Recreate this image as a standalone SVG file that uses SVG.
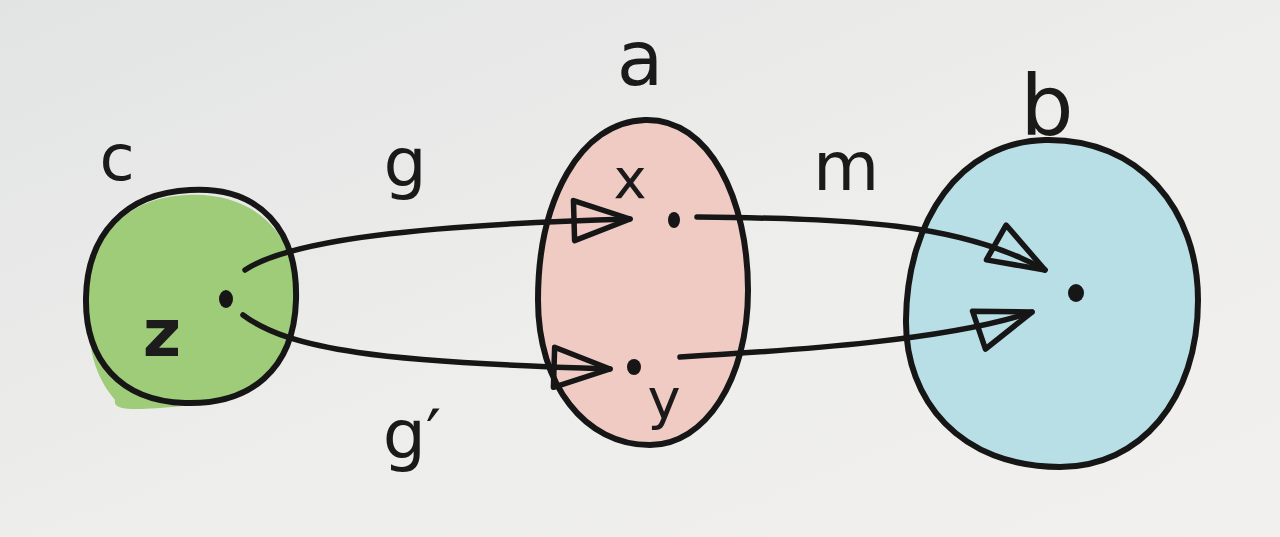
<svg xmlns="http://www.w3.org/2000/svg" width="1280" height="537" viewBox="0 0 1280 537">
  <defs>
    <linearGradient id="bg" x1="0" y1="0" x2="1" y2="1">
      <stop offset="0" stop-color="#e2e4e4"/>
      <stop offset="0.5" stop-color="#ededeb"/>
      <stop offset="1" stop-color="#f1f0ee"/>
    </linearGradient>
    <marker id="open" markerUnits="userSpaceOnUse" viewBox="-64 -28 70 56" refX="0" refY="0" markerWidth="70" markerHeight="56" orient="auto">
      <path d="M -56,-20 L 0,0 L -56,20 Z" fill="none" stroke="#161616" stroke-width="5.5" stroke-linejoin="round"/>
    </marker>
    <style>
      .outline { fill: none; stroke: #161616; stroke-width: 6; stroke-linejoin: round; }
      .edge { fill: none; stroke: #161616; stroke-width: 5.5; stroke-linecap: round; marker-end: url(#open); }
      .dot { fill: #161616; }
      .lbl { font-family: "DejaVu Sans", "Liberation Sans", sans-serif; fill: #1a1a1a; text-anchor: middle; }
      .inner { font-family: "DejaVu Sans", "Liberation Sans", sans-serif; fill: #1c1c1c; text-anchor: middle; font-weight: bold; }
    </style>
  </defs>
  <rect width="1280" height="537" fill="url(#bg)"/>

  <g id="node-c">
    <path d="M 188,195 C 258,192 300,238 297,305 C 294,372 250,400 182,406 C 140,410 112,412 115,400 C 90,370 88,340 88,298 C 89,238 125,197 188,195 Z" fill="#9fcc78"/>
    <path d="M 190,190 C 260,186 298,230 296,300 C 294,370 250,405 185,403 C 120,401 85,360 86,298 C 87,235 125,193 190,190 Z" class="outline"/>
    <ellipse cx="226" cy="299" rx="7" ry="9" class="dot"/>
    <text x="162" y="356" class="inner" font-size="66">z</text>
    <text x="117" y="180" class="lbl" font-size="64">c</text>
  </g>

  <g id="node-a">
    <path d="M 645,120 C 710,118 748,200 748,290 C 748,380 705,445 650,445 C 585,445 538,385 538,300 C 538,200 580,122 645,120 Z" fill="#efcbc3"/>
    <path d="M 645,120 C 710,118 748,200 748,290 C 748,380 705,445 650,445 C 585,445 538,385 538,300 C 538,200 580,122 645,120 Z" class="outline"/>
    <ellipse cx="674" cy="220" rx="6" ry="8" class="dot"/>
    <ellipse cx="634" cy="367" rx="7" ry="8" class="dot"/>
    <text x="630" y="198" class="lbl" font-size="56">x</text>
    <text x="664" y="418" class="lbl" font-size="56">y</text>
    <text x="640" y="85" class="lbl" font-size="76">a</text>
  </g>

  <g id="node-b">
    <path d="M 1045,140 C 1140,138 1198,210 1198,300 C 1198,400 1140,467 1060,467 C 960,467 905,400 906,320 C 907,220 960,142 1045,140 Z" fill="#b8dfe5"/>
    <path d="M 1045,140 C 1140,138 1198,210 1198,300 C 1198,400 1140,467 1060,467 C 960,467 905,400 906,320 C 907,220 960,142 1045,140 Z" class="outline"/>
    <ellipse cx="1076" cy="293" rx="8" ry="9" class="dot"/>
    <text x="1047" y="135" class="lbl" font-size="84">b</text>
  </g>

  <g id="edges">
    <path id="edge-g" d="M 245,270 C 290,240 420,225 630,219" class="edge"/>
    <path id="edge-gprime" d="M 243,315 C 290,350 380,362 610,369" class="edge"/>
    <path id="edge-m-top" d="M 697,217 C 850,219 960,222 1045,270" class="edge"/>
    <path id="edge-m-bottom" d="M 680,357 C 800,350 950,340 1032,312" class="edge"/>
    <text x="405" y="186" class="lbl" font-size="68">g</text>
    <text x="412" y="458" class="lbl" font-size="68">g′</text>
    <text x="846" y="190" class="lbl" font-size="68">m</text>
  </g>
</svg>
